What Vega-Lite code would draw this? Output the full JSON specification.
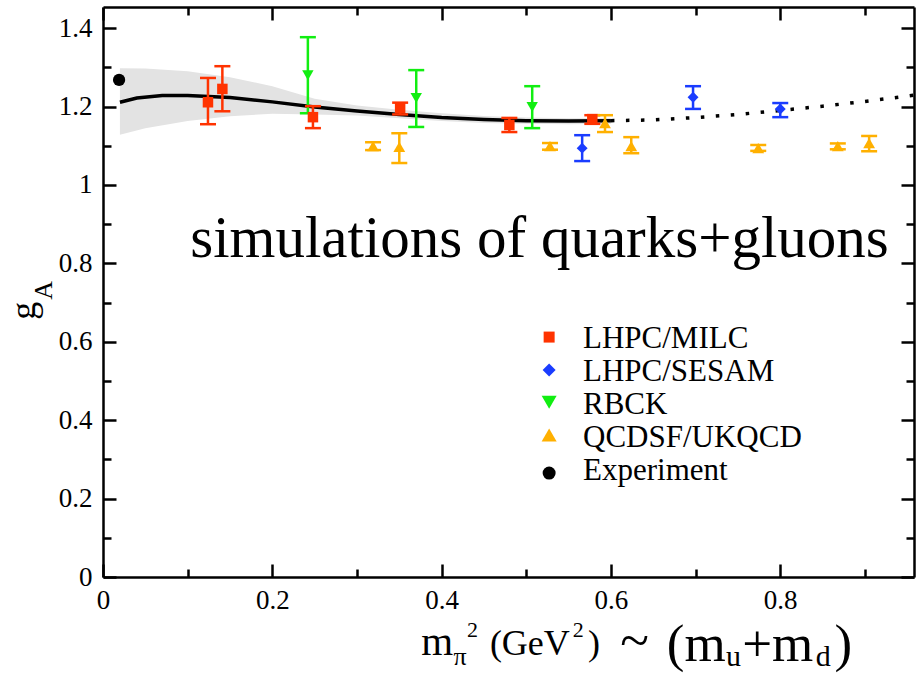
{
  "$schema": "https://vega.github.io/schema/vega-lite/v6.json",
  "width": 811,
  "height": 570,
  "autosize": {"type": "none"},
  "padding": {"left": 103, "top": 7, "right": 8, "bottom": 96},
  "background": "white",
  "config": {
    "view": {"stroke": null},
    "font": "Liberation Serif",
    "axis": {"tickColor": "black", "tickWidth": 2.5, "domainColor": "black", "domainWidth": 2.5, "grid": false, "title": null,
      "labelFont": "Liberation Serif", "labelFontSize": 27, "labelColor": "black"},
    "text": {"font": "Liberation Serif", "color": "black"}
  },
  "datasets": {
    "pts": [
      {"series": "LHPC/MILC", "x": 0.124, "y": 1.211, "lo": 1.155, "hi": 1.273},
      {"series": "LHPC/MILC", "x": 0.141, "y": 1.245, "lo": 1.188, "hi": 1.303},
      {"series": "LHPC/MILC", "x": 0.248, "y": 1.173, "lo": 1.145, "hi": 1.201},
      {"series": "LHPC/MILC", "x": 0.351, "y": 1.196, "lo": 1.180, "hi": 1.210},
      {"series": "LHPC/MILC", "x": 0.480, "y": 1.153, "lo": 1.135, "hi": 1.171},
      {"series": "LHPC/MILC", "x": 0.578, "y": 1.168, "lo": 1.156, "hi": 1.178},
      {"series": "LHPC/SESAM", "x": 0.566, "y": 1.094, "lo": 1.061, "hi": 1.127},
      {"series": "LHPC/SESAM", "x": 0.697, "y": 1.224, "lo": 1.194, "hi": 1.252},
      {"series": "LHPC/SESAM", "x": 0.800, "y": 1.194, "lo": 1.173, "hi": 1.209},
      {"series": "RBCK", "x": 0.242, "y": 1.280, "lo": 1.183, "hi": 1.377},
      {"series": "RBCK", "x": 0.370, "y": 1.222, "lo": 1.148, "hi": 1.293},
      {"series": "RBCK", "x": 0.507, "y": 1.199, "lo": 1.145, "hi": 1.252},
      {"series": "QCDSF/UKQCD", "x": 0.319, "y": 1.099, "lo": 1.089, "hi": 1.109},
      {"series": "QCDSF/UKQCD", "x": 0.350, "y": 1.097, "lo": 1.056, "hi": 1.132},
      {"series": "QCDSF/UKQCD", "x": 0.528, "y": 1.099, "lo": 1.090, "hi": 1.107},
      {"series": "QCDSF/UKQCD", "x": 0.593, "y": 1.158, "lo": 1.135, "hi": 1.178},
      {"series": "QCDSF/UKQCD", "x": 0.624, "y": 1.099, "lo": 1.081, "hi": 1.122},
      {"series": "QCDSF/UKQCD", "x": 0.774, "y": 1.094, "lo": 1.087, "hi": 1.102},
      {"series": "QCDSF/UKQCD", "x": 0.868, "y": 1.099, "lo": 1.091, "hi": 1.106},
      {"series": "QCDSF/UKQCD", "x": 0.905, "y": 1.107, "lo": 1.086, "hi": 1.125},
      {"series": "Experiment", "x": 0.019, "y": 1.268, "lo": null, "hi": null}
    ],
    "fit": [
      {"x": 0.02, "y": 1.211}, {"x": 0.04, "y": 1.222}, {"x": 0.07, "y": 1.228},
      {"x": 0.10, "y": 1.228}, {"x": 0.15, "y": 1.223}, {"x": 0.20, "y": 1.212},
      {"x": 0.25, "y": 1.199}, {"x": 0.30, "y": 1.189}, {"x": 0.35, "y": 1.180},
      {"x": 0.40, "y": 1.172}, {"x": 0.45, "y": 1.167}, {"x": 0.50, "y": 1.164},
      {"x": 0.55, "y": 1.163}, {"x": 0.60, "y": 1.164}
    ],
    "extrap": [
      {"x": 0.60, "y": 1.164}, {"x": 0.65, "y": 1.166}, {"x": 0.70, "y": 1.172},
      {"x": 0.75, "y": 1.180}, {"x": 0.80, "y": 1.190}, {"x": 0.85, "y": 1.201},
      {"x": 0.90, "y": 1.213}, {"x": 0.958, "y": 1.229}
    ],
    "band": [
      {"x": 0.02, "lo": 1.128, "hi": 1.298}, {"x": 0.05, "lo": 1.145, "hi": 1.297},
      {"x": 0.10, "lo": 1.163, "hi": 1.290}, {"x": 0.15, "lo": 1.175, "hi": 1.275},
      {"x": 0.20, "lo": 1.182, "hi": 1.252}, {"x": 0.25, "lo": 1.180, "hi": 1.220},
      {"x": 0.30, "lo": 1.177, "hi": 1.203}, {"x": 0.35, "lo": 1.170, "hi": 1.192},
      {"x": 0.40, "lo": 1.163, "hi": 1.183}, {"x": 0.45, "lo": 1.158, "hi": 1.176},
      {"x": 0.50, "lo": 1.156, "hi": 1.172}, {"x": 0.55, "lo": 1.155, "hi": 1.170},
      {"x": 0.60, "lo": 1.156, "hi": 1.170}
    ]
  },
  "resolve": {"axis": {"x": "independent", "y": "independent"}},
  "layer": [
    {
      "data": {"name": "band"},
      "mark": {"type": "area", "color": "#e3e3e3", "opacity": 1},
      "encoding": {
        "x": {"field": "x", "type": "quantitative", "scale": {"domain": [0, 0.958], "nice": false, "zero": false},
          "axis": {"orient": "top", "values": [0, 0.2, 0.4, 0.6, 0.8], "labels": false, "tickSize": -13}},
        "y": {"field": "lo", "type": "quantitative", "scale": {"domain": [0, 1.454], "nice": false, "zero": false},
          "axis": {"orient": "right", "values": [0, 0.2, 0.4, 0.6, 0.8, 1.0, 1.2, 1.4], "labels": false, "tickSize": -13}},
        "y2": {"field": "hi"}
      }
    },
    {
      "data": {"name": "fit"},
      "mark": {"type": "line", "color": "black", "strokeWidth": 3.5},
      "encoding": {
        "x": {"field": "x", "type": "quantitative", "scale": {"domain": [0, 0.958], "nice": false, "zero": false},
          "axis": {"orient": "bottom", "values": [0, 0.2, 0.4, 0.6, 0.8], "format": "~g", "tickSize": -13,
            "labelFont": "Liberation Serif", "labelFontSize": 27, "labelColor": "black", "labelPadding": 23, "labelOverlap": false, "labelFlush": false}},
        "y": {"field": "y", "type": "quantitative", "scale": {"domain": [0, 1.454], "nice": false, "zero": false},
          "axis": {"orient": "left", "values": [0, 0.2, 0.4, 0.6, 0.8, 1.0, 1.2, 1.4], "format": "~g", "tickSize": -13,
            "labelFont": "Liberation Serif", "labelFontSize": 27, "labelColor": "black", "labelPadding": 24, "labelOverlap": false, "labelFlush": false}}
      }
    },
    {
      "data": {"name": "extrap"},
      "mark": {"type": "line", "color": "black", "strokeWidth": 3.5, "strokeDash": [3.5, 11.5]},
      "encoding": {
        "x": {"field": "x", "type": "quantitative", "scale": {"domain": [0, 0.958], "nice": false, "zero": false},
          "axis": {"orient": "bottom", "values": [0.1, 0.3, 0.5, 0.7, 0.9], "labels": false, "domain": false, "tickSize": -8}},
        "y": {"field": "y", "type": "quantitative", "scale": {"domain": [0, 1.454], "nice": false, "zero": false},
          "axis": {"orient": "left", "values": [0.1, 0.3, 0.5, 0.7, 0.9, 1.1, 1.3], "labels": false, "domain": false, "tickSize": -8}}
      }
    },
    {
      "data": {"name": "pts"},
      "transform": [{"filter": "isValid(datum.lo)"}],
      "mark": {"type": "rule", "strokeWidth": 2.5},
      "encoding": {
        "x": {"field": "x", "type": "quantitative", "scale": {"domain": [0, 0.958], "nice": false, "zero": false},
          "axis": {"orient": "top", "values": [0.1, 0.3, 0.5, 0.7, 0.9], "labels": false, "domain": false, "tickSize": -8}},
        "y": {"field": "lo", "type": "quantitative", "scale": {"domain": [0, 1.454], "nice": false, "zero": false},
          "axis": {"orient": "right", "values": [0.1, 0.3, 0.5, 0.7, 0.9, 1.1, 1.3], "labels": false, "domain": false, "tickSize": -8}},
        "y2": {"field": "hi"},
        "color": {"field": "series", "type": "nominal", "legend": null,
          "scale": {"domain": ["LHPC/MILC", "LHPC/SESAM", "RBCK", "QCDSF/UKQCD", "Experiment"], "range": ["#ff3300", "#1a3cff", "#11ee11", "#ffb000", "#000000"]}}
      }
    },
    {
      "data": {"name": "pts"},
      "transform": [{"filter": "isValid(datum.lo)"}],
      "mark": {"type": "tick", "orient": "horizontal", "size": 16, "thickness": 2.5, "opacity": 1},
      "encoding": {
        "x": {"field": "x", "type": "quantitative", "scale": {"domain": [0, 0.958], "nice": false, "zero": false}, "axis": null},
        "y": {"field": "lo", "type": "quantitative", "scale": {"domain": [0, 1.454], "nice": false, "zero": false}, "axis": null},
        "color": {"field": "series", "type": "nominal", "legend": null,
          "scale": {"domain": ["LHPC/MILC", "LHPC/SESAM", "RBCK", "QCDSF/UKQCD", "Experiment"], "range": ["#ff3300", "#1a3cff", "#11ee11", "#ffb000", "#000000"]}}
      }
    },
    {
      "data": {"name": "pts"},
      "transform": [{"filter": "isValid(datum.hi)"}],
      "mark": {"type": "tick", "orient": "horizontal", "size": 16, "thickness": 2.5, "opacity": 1},
      "encoding": {
        "x": {"field": "x", "type": "quantitative", "scale": {"domain": [0, 0.958], "nice": false, "zero": false}, "axis": null},
        "y": {"field": "hi", "type": "quantitative", "scale": {"domain": [0, 1.454], "nice": false, "zero": false}, "axis": null},
        "color": {"field": "series", "type": "nominal", "legend": null,
          "scale": {"domain": ["LHPC/MILC", "LHPC/SESAM", "RBCK", "QCDSF/UKQCD", "Experiment"], "range": ["#ff3300", "#1a3cff", "#11ee11", "#ffb000", "#000000"]}}
      }
    },
    {
      "data": {"name": "pts"},
      "mark": {"type": "point", "filled": true, "opacity": 1, "strokeWidth": 0},
      "encoding": {
        "x": {"field": "x", "type": "quantitative", "scale": {"domain": [0, 0.958], "nice": false, "zero": false}, "axis": null},
        "y": {"field": "y", "type": "quantitative", "scale": {"domain": [0, 1.454], "nice": false, "zero": false}, "axis": null},
        "color": {"field": "series", "type": "nominal", "legend": null,
          "scale": {"domain": ["LHPC/MILC", "LHPC/SESAM", "RBCK", "QCDSF/UKQCD", "Experiment"], "range": ["#ff3300", "#1a3cff", "#11ee11", "#ffb000", "#000000"]}},
        "shape": {"field": "series", "type": "nominal", "legend": null,
          "scale": {"domain": ["LHPC/MILC", "LHPC/SESAM", "RBCK", "QCDSF/UKQCD", "Experiment"], "range": ["square", "diamond", "triangle-down", "triangle-up", "circle"]}},
        "size": {"field": "series", "type": "nominal", "legend": null,
          "scale": {"domain": ["LHPC/MILC", "LHPC/SESAM", "RBCK", "QCDSF/UKQCD", "Experiment"], "range": [110, 150, 240, 280, 170]}}
      }
    },
    {"data": {"values": [{}]}, "mark": {"type": "point", "filled": true, "opacity": 1, "strokeWidth": 0, "shape": "square", "size": 121, "color": "#ff3300"},
      "encoding": {"x": {"datum": 0.527, "type": "quantitative", "scale": {"domain": [0, 0.958], "nice": false, "zero": false}, "axis": null},
        "y": {"datum": 0.612, "type": "quantitative", "scale": {"domain": [0, 1.454], "nice": false, "zero": false}, "axis": null}}},
    {"data": {"values": [{}]}, "mark": {"type": "point", "filled": true, "opacity": 1, "strokeWidth": 0, "shape": "diamond", "size": 169, "color": "#1a3cff"},
      "encoding": {"x": {"datum": 0.527, "type": "quantitative", "scale": {"domain": [0, 0.958], "nice": false, "zero": false}, "axis": null},
        "y": {"datum": 0.528, "type": "quantitative", "scale": {"domain": [0, 1.454], "nice": false, "zero": false}, "axis": null}}},
    {"data": {"values": [{}]}, "mark": {"type": "point", "filled": true, "opacity": 1, "strokeWidth": 0, "shape": "triangle-down", "size": 225, "color": "#11ee11"},
      "encoding": {"x": {"datum": 0.527, "type": "quantitative", "scale": {"domain": [0, 0.958], "nice": false, "zero": false}, "axis": null},
        "y": {"datum": 0.446, "type": "quantitative", "scale": {"domain": [0, 1.454], "nice": false, "zero": false}, "axis": null}}},
    {"data": {"values": [{}]}, "mark": {"type": "point", "filled": true, "opacity": 1, "strokeWidth": 0, "shape": "triangle-up", "size": 225, "color": "#ffb000"},
      "encoding": {"x": {"datum": 0.527, "type": "quantitative", "scale": {"domain": [0, 0.958], "nice": false, "zero": false}, "axis": null},
        "y": {"datum": 0.362, "type": "quantitative", "scale": {"domain": [0, 1.454], "nice": false, "zero": false}, "axis": null}}},
    {"data": {"values": [{}]}, "mark": {"type": "point", "filled": true, "opacity": 1, "strokeWidth": 0, "shape": "circle", "size": 169, "color": "#000000"},
      "encoding": {"x": {"datum": 0.527, "type": "quantitative", "scale": {"domain": [0, 0.958], "nice": false, "zero": false}, "axis": null},
        "y": {"datum": 0.265, "type": "quantitative", "scale": {"domain": [0, 1.454], "nice": false, "zero": false}, "axis": null}}},
    {"data": {"values": [{}]}, "mark": {"type": "text", "text": "LHPC/MILC", "fontSize": 31, "align": "left", "baseline": "alphabetic", "font": "Liberation Serif"},
      "encoding": {"x": {"datum": 0.567, "type": "quantitative", "scale": {"domain": [0, 0.958], "nice": false, "zero": false}, "axis": null},
        "y": {"datum": 0.584, "type": "quantitative", "scale": {"domain": [0, 1.454], "nice": false, "zero": false}, "axis": null}}},
    {"data": {"values": [{}]}, "mark": {"type": "text", "text": "LHPC/SESAM", "fontSize": 31, "align": "left", "baseline": "alphabetic", "font": "Liberation Serif"},
      "encoding": {"x": {"datum": 0.567, "type": "quantitative", "scale": {"domain": [0, 0.958], "nice": false, "zero": false}, "axis": null},
        "y": {"datum": 0.500, "type": "quantitative", "scale": {"domain": [0, 1.454], "nice": false, "zero": false}, "axis": null}}},
    {"data": {"values": [{}]}, "mark": {"type": "text", "text": "RBCK", "fontSize": 31, "align": "left", "baseline": "alphabetic", "font": "Liberation Serif"},
      "encoding": {"x": {"datum": 0.567, "type": "quantitative", "scale": {"domain": [0, 0.958], "nice": false, "zero": false}, "axis": null},
        "y": {"datum": 0.416, "type": "quantitative", "scale": {"domain": [0, 1.454], "nice": false, "zero": false}, "axis": null}}},
    {"data": {"values": [{}]}, "mark": {"type": "text", "text": "QCDSF/UKQCD", "fontSize": 31, "align": "left", "baseline": "alphabetic", "font": "Liberation Serif"},
      "encoding": {"x": {"datum": 0.567, "type": "quantitative", "scale": {"domain": [0, 0.958], "nice": false, "zero": false}, "axis": null},
        "y": {"datum": 0.332, "type": "quantitative", "scale": {"domain": [0, 1.454], "nice": false, "zero": false}, "axis": null}}},
    {"data": {"values": [{}]}, "mark": {"type": "text", "text": "Experiment", "fontSize": 31, "align": "left", "baseline": "alphabetic", "font": "Liberation Serif"},
      "encoding": {"x": {"datum": 0.567, "type": "quantitative", "scale": {"domain": [0, 0.958], "nice": false, "zero": false}, "axis": null},
        "y": {"datum": 0.247, "type": "quantitative", "scale": {"domain": [0, 1.454], "nice": false, "zero": false}, "axis": null}}},
    {
      "data": {"values": [{}]},
      "mark": {"type": "text", "text": "simulations of quarks+gluons", "fontSize": 59, "align": "left", "baseline": "alphabetic", "font": "Liberation Serif"},
      "encoding": {
        "x": {"datum": 0.103, "type": "quantitative", "scale": {"domain": [0, 0.958], "nice": false, "zero": false}, "axis": null},
        "y": {"datum": 0.816, "type": "quantitative", "scale": {"domain": [0, 1.454], "nice": false, "zero": false}, "axis": null}
      }
    },
    {
      "data": {"values": [{}]},
      "mark": {"type": "text", "text": "m", "fontSize": 41, "align": "left", "baseline": "alphabetic", "font": "Liberation Serif"},
      "encoding": {
        "x": {"datum": 0.376, "type": "quantitative", "scale": {"domain": [0, 0.958], "nice": false, "zero": false}, "axis": null},
        "y": {"datum": -0.199, "type": "quantitative", "scale": {"domain": [0, 1.454], "nice": false, "zero": false}, "axis": null}
      }
    },
    {
      "data": {"values": [{}]},
      "mark": {"type": "text", "text": "π", "fontSize": 26, "align": "left", "baseline": "alphabetic", "font": "Liberation Serif"},
      "encoding": {
        "x": {"datum": 0.414, "type": "quantitative", "scale": {"domain": [0, 0.958], "nice": false, "zero": false}, "axis": null},
        "y": {"datum": -0.224, "type": "quantitative", "scale": {"domain": [0, 1.454], "nice": false, "zero": false}, "axis": null}
      }
    },
    {
      "data": {"values": [{}]},
      "mark": {"type": "text", "text": "2", "fontSize": 22, "align": "left", "baseline": "alphabetic", "font": "Liberation Serif"},
      "encoding": {
        "x": {"datum": 0.430, "type": "quantitative", "scale": {"domain": [0, 0.958], "nice": false, "zero": false}, "axis": null},
        "y": {"datum": -0.153, "type": "quantitative", "scale": {"domain": [0, 1.454], "nice": false, "zero": false}, "axis": null}
      }
    },
    {
      "data": {"values": [{}]},
      "mark": {"type": "text", "text": "(GeV", "fontSize": 36, "align": "left", "baseline": "alphabetic", "font": "Liberation Serif"},
      "encoding": {
        "x": {"datum": 0.457, "type": "quantitative", "scale": {"domain": [0, 0.958], "nice": false, "zero": false}, "axis": null},
        "y": {"datum": -0.199, "type": "quantitative", "scale": {"domain": [0, 1.454], "nice": false, "zero": false}, "axis": null}
      }
    },
    {
      "data": {"values": [{}]},
      "mark": {"type": "text", "text": "2", "fontSize": 22, "align": "left", "baseline": "alphabetic", "font": "Liberation Serif"},
      "encoding": {
        "x": {"datum": 0.555, "type": "quantitative", "scale": {"domain": [0, 0.958], "nice": false, "zero": false}, "axis": null},
        "y": {"datum": -0.153, "type": "quantitative", "scale": {"domain": [0, 1.454], "nice": false, "zero": false}, "axis": null}
      }
    },
    {
      "data": {"values": [{}]},
      "mark": {"type": "text", "text": ")", "fontSize": 36, "align": "left", "baseline": "alphabetic", "font": "Liberation Serif"},
      "encoding": {
        "x": {"datum": 0.573, "type": "quantitative", "scale": {"domain": [0, 0.958], "nice": false, "zero": false}, "axis": null},
        "y": {"datum": -0.199, "type": "quantitative", "scale": {"domain": [0, 1.454], "nice": false, "zero": false}, "axis": null}
      }
    },
    {
      "data": {"values": [{}]},
      "mark": {"type": "text", "text": "~", "fontSize": 53, "align": "left", "baseline": "alphabetic", "font": "Liberation Serif"},
      "encoding": {
        "x": {"datum": 0.611, "type": "quantitative", "scale": {"domain": [0, 0.958], "nice": false, "zero": false}, "axis": null},
        "y": {"datum": -0.207, "type": "quantitative", "scale": {"domain": [0, 1.454], "nice": false, "zero": false}, "axis": null}
      }
    },
    {
      "data": {"values": [{}]},
      "mark": {"type": "text", "text": "(m", "fontSize": 53, "align": "left", "baseline": "alphabetic", "font": "Liberation Serif"},
      "encoding": {
        "x": {"datum": 0.666, "type": "quantitative", "scale": {"domain": [0, 0.958], "nice": false, "zero": false}, "axis": null},
        "y": {"datum": -0.215, "type": "quantitative", "scale": {"domain": [0, 1.454], "nice": false, "zero": false}, "axis": null}
      }
    },
    {
      "data": {"values": [{}]},
      "mark": {"type": "text", "text": "u", "fontSize": 30, "align": "left", "baseline": "alphabetic", "font": "Liberation Serif"},
      "encoding": {
        "x": {"datum": 0.736, "type": "quantitative", "scale": {"domain": [0, 0.958], "nice": false, "zero": false}, "axis": null},
        "y": {"datum": -0.227, "type": "quantitative", "scale": {"domain": [0, 1.454], "nice": false, "zero": false}, "axis": null}
      }
    },
    {
      "data": {"values": [{}]},
      "mark": {"type": "text", "text": "+m", "fontSize": 53, "align": "left", "baseline": "alphabetic", "font": "Liberation Serif"},
      "encoding": {
        "x": {"datum": 0.755, "type": "quantitative", "scale": {"domain": [0, 0.958], "nice": false, "zero": false}, "axis": null},
        "y": {"datum": -0.215, "type": "quantitative", "scale": {"domain": [0, 1.454], "nice": false, "zero": false}, "axis": null}
      }
    },
    {
      "data": {"values": [{}]},
      "mark": {"type": "text", "text": "d", "fontSize": 30, "align": "left", "baseline": "alphabetic", "font": "Liberation Serif"},
      "encoding": {
        "x": {"datum": 0.842, "type": "quantitative", "scale": {"domain": [0, 0.958], "nice": false, "zero": false}, "axis": null},
        "y": {"datum": -0.227, "type": "quantitative", "scale": {"domain": [0, 1.454], "nice": false, "zero": false}, "axis": null}
      }
    },
    {
      "data": {"values": [{}]},
      "mark": {"type": "text", "text": ")", "fontSize": 53, "align": "left", "baseline": "alphabetic", "font": "Liberation Serif"},
      "encoding": {
        "x": {"datum": 0.864, "type": "quantitative", "scale": {"domain": [0, 0.958], "nice": false, "zero": false}, "axis": null},
        "y": {"datum": -0.215, "type": "quantitative", "scale": {"domain": [0, 1.454], "nice": false, "zero": false}, "axis": null}
      }
    },
    {
      "data": {"values": [{}]},
      "mark": {"type": "text", "text": "g", "fontSize": 36, "angle": 270, "align": "left", "baseline": "alphabetic", "font": "Liberation Serif"},
      "encoding": {
        "x": {"datum": -0.080, "type": "quantitative", "scale": {"domain": [0, 0.958], "nice": false, "zero": false}, "axis": null},
        "y": {"datum": 0.656, "type": "quantitative", "scale": {"domain": [0, 1.454], "nice": false, "zero": false}, "axis": null}
      }
    },
    {
      "data": {"values": [{}]},
      "mark": {"type": "text", "text": "A", "fontSize": 26, "angle": 270, "align": "left", "baseline": "alphabetic", "font": "Liberation Serif"},
      "encoding": {
        "x": {"datum": -0.060, "type": "quantitative", "scale": {"domain": [0, 0.958], "nice": false, "zero": false}, "axis": null},
        "y": {"datum": 0.707, "type": "quantitative", "scale": {"domain": [0, 1.454], "nice": false, "zero": false}, "axis": null}
      }
    }
  ]
}
